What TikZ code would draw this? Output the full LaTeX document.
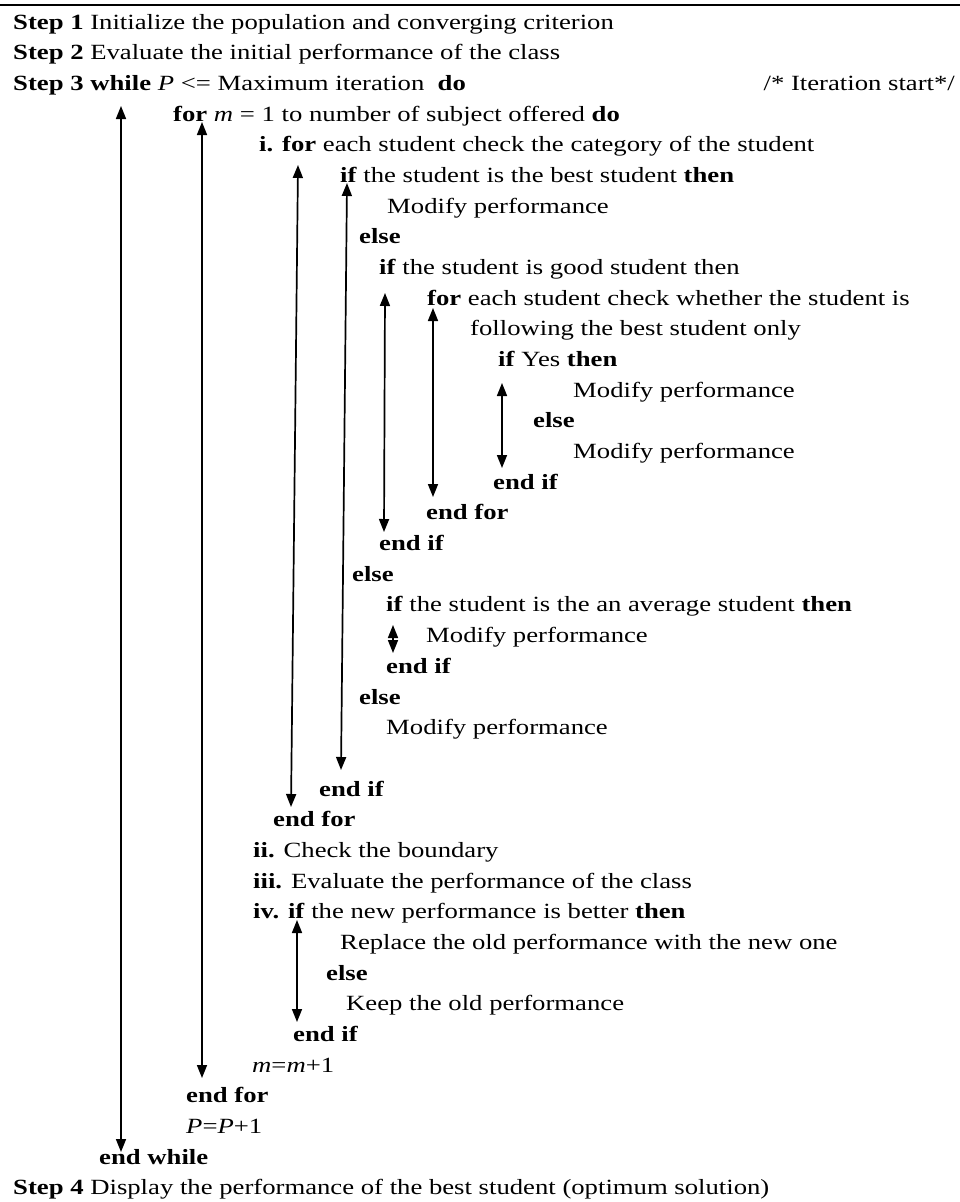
\documentclass[tikz,border=0pt]{standalone}
\usepackage{fontspec}
\setmainfont{Liberation Serif}[FakeStretch=1.23]
\usetikzlibrary{arrows.meta}

\begin{document}
\begin{tikzpicture}[x=1pt,y=-1pt,font=\fontsize{21.7}{26}\selectfont]

\tikzset{stmt/.style = {anchor=base west, inner sep=0pt}}
\tikzset{flow/.style = {{Triangle[length=13pt,width=10pt]}-{Triangle[length=13pt,width=10pt]}, line width=1.7pt}}
\useasboundingbox (0,0) rectangle (960,1202);
\draw[line width=2pt] (0,5) -- (960,5);
%steps
\node[stmt] (r1) at (13,29) {\textbf{Step 1} Initialize the population and converging criterion};
\node[stmt] (r2) at (13,59.7) {\textbf{Step 2} Evaluate the initial performance of the class};
\node[stmt] (r3) at (13,90.4) {\textbf{Step 3 while} \textit{P} <= Maximum iteration \ \textbf{do}};
\node[stmt, anchor=base east] (note) at (955,90.4) {/* Iteration start*/};
\node[stmt] (r4) at (173,121) {\textbf{for} \textit{m} = 1 to number of subject offered \textbf{do}};
\node[stmt] (r5) at (259,151.7) {\textbf{i. for} each student check the category of the student};
\node[stmt] (r6) at (340,182.4) {\textbf{if} the student is the best student \textbf{then}};
\node[stmt] (r7) at (387,213.1) {Modify performance};
\node[stmt] (r8) at (359,243.8) {\textbf{else}};
\node[stmt] (r9) at (379,274.4) {\textbf{if} the student is good student then};
\node[stmt] (r10) at (427,305.1) {\textbf{for} each student check whether the student is};
\node[stmt] (r11) at (470,335.8) {following the best student only};
\node[stmt] (r12) at (498,366.5) {\textbf{if} Yes \textbf{then}};
\node[stmt] (r13) at (573,397.2) {Modify performance};
\node[stmt] (r14) at (533,427.8) {\textbf{else}};
\node[stmt] (r15) at (573,458.5) {Modify performance};
\node[stmt] (r16) at (493,489.2) {\textbf{end if}};
\node[stmt] (r17) at (426,519.9) {\textbf{end for}};
\node[stmt] (r18) at (379,550.6) {\textbf{end if}};
\node[stmt] (r19) at (352,581.2) {\textbf{else}};
\node[stmt] (r20) at (386,611.9) {\textbf{if} the student is the an average student \textbf{then}};
\node[stmt] (r21) at (426,642.6) {Modify performance};
\node[stmt] (r22) at (386,673.3) {\textbf{end if}};
\node[stmt] (r23) at (359,704) {\textbf{else}};
\node[stmt] (r24) at (386,734.6) {Modify performance};
\node[stmt] (r26) at (319,796) {\textbf{end if}};
\node[stmt] (r27) at (273,826.7) {\textbf{end for}};
\node[stmt] (r28) at (253,857.4) {\textbf{ii.} Check the boundary};
\node[stmt] (r29) at (253,888) {\textbf{iii.} Evaluate the performance of the class};
\node[stmt] (r30) at (253,918.7) {\textbf{iv. if} the new performance is better \textbf{then}};
\node[stmt] (r31) at (340,949.4) {Replace the old performance with the new one};
\node[stmt] (r32) at (326,980.1) {\textbf{else}};
\node[stmt] (r33) at (346,1010.8) {Keep the old performance};
\node[stmt] (r34) at (293,1041.4) {\textbf{end if}};
\node[stmt] (r35) at (252,1072.1) {\textit{m}=\textit{m}+1};
\node[stmt] (r36) at (186,1102.8) {\textbf{end for}};
\node[stmt] (r37) at (186,1133.5) {\textit{P}=\textit{P}+1};
\node[stmt] (r38) at (99,1164.2) {\textbf{end while}};
\node[stmt] (r39) at (13,1194.8) {\textbf{Step 4} Display the performance of the best student (optimum solution)};
%arrow ends
\coordinate (a1t) at (121,106);  \coordinate (a1b) at (121,1152);
\coordinate (a2t) at (202,122);  \coordinate (a2b) at (202,1078);
\coordinate (a3t) at (298,165);  \coordinate (a3b) at (291,807);
\coordinate (a4t) at (347,183);  \coordinate (a4b) at (341,770);
\coordinate (a5t) at (385,293);  \coordinate (a5b) at (384,532);
\coordinate (a6t) at (433,308);  \coordinate (a6b) at (433,497);
\coordinate (a7t) at (502,383);  \coordinate (a7b) at (502,468);
\coordinate (a8t) at (393,625);  \coordinate (a8b) at (393,653);
\coordinate (a9t) at (297,920);  \coordinate (a9b) at (297,1022);
%arrows
\draw[flow] (a1t) -- (a1b);
\draw[flow] (a2t) -- (a2b);
\draw[flow] (a3t) -- (a3b);
\draw[flow] (a4t) -- (a4b);
\draw[flow] (a5t) -- (a5b);
\draw[flow] (a6t) -- (a6b);
\draw[flow] (a7t) -- (a7b);
\draw[flow] (a8t) -- (a8b);
\draw[flow] (a9t) -- (a9b);

\end{tikzpicture}
\end{document}
